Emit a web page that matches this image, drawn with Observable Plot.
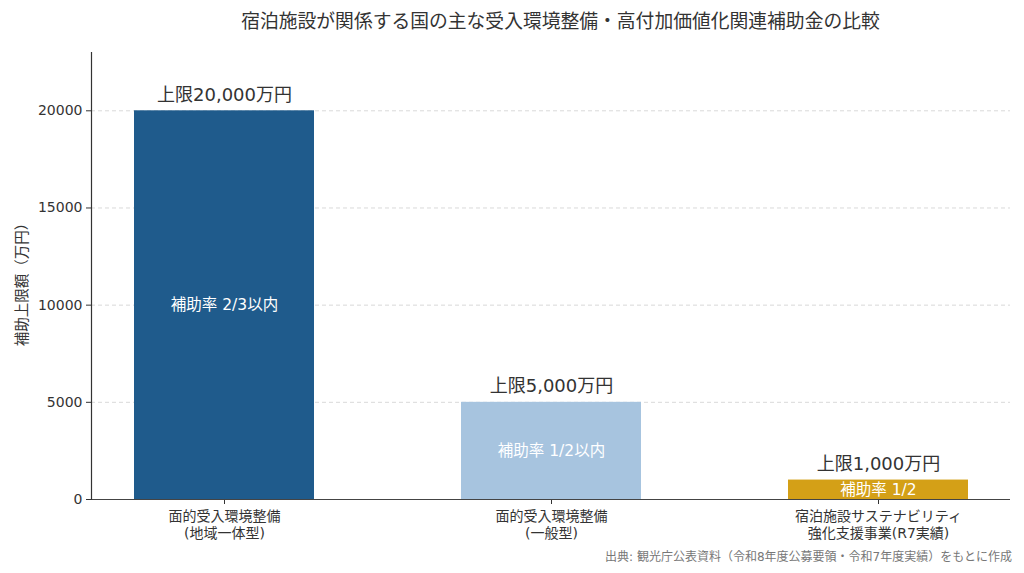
<!DOCTYPE html>
<html>
<head>
<meta charset="utf-8">
<script src="https://cdn.jsdelivr.net/npm/d3@7"></script>
<script src="https://cdn.jsdelivr.net/npm/@observablehq/plot@0.6"></script>
<style>
  body { margin: 0; background: #fff; font-family: "DejaVu Sans", "Noto Sans CJK JP", sans-serif; }
  #wrap { width: 1024px; height: 573px; position: relative; overflow: hidden; }
  #title { height: 44px; line-height: 44px; padding-left: 101px; padding-right: 4px; text-align: center; font-size: 18.8px; color: #333; white-space: nowrap; }
  #chart svg { display: block; }
  #caption { position: absolute; right: 12px; top: 548px; font-size: 12px; color: #777; line-height: 18px; white-space: nowrap; }
</style>
</head>
<body>
<div id="wrap">
  <div id="title">宿泊施設が関係する国の主な受入環境整備・高付加価値化関連補助金の比較</div>
  <div id="chart"></div>
  <div id="caption">出典: 観光庁公表資料（令和8年度公募要領・令和7年度実績）をもとに作成</div>
</div>
<script>
const categories = ["面的受入環境整備\n(地域一体型)", "面的受入環境整備\n(一般型)", "宿泊施設サステナビリティ\n強化支援事業(R7実績)"];
const limits = [20000, 5000, 1000];
const limitLabels = ["上限20,000万円", "上限5,000万円", "上限1,000万円"];
const rateLabels = ["補助率 2/3以内", "補助率 1/2以内", "補助率 1/2"];
const barColors = ["#1f5b8c", "#a7c4df", "#d4a017"];
const yTicks = [0, 5000, 10000, 15000, 20000];
const yLabel = "補助上限額（万円）";

const data = categories.map((c, i) => ({cat: c, value: limits[i], top: limitLabels[i], rate: rateLabels[i], color: barColors[i]}));

const chart = Plot.plot({
  width: 1024,
  height: 503,
  marginLeft: 91,
  marginRight: 14,
  marginTop: 8,
  marginBottom: 48,
  style: {fontFamily: '"DejaVu Sans", "Noto Sans CJK JP", sans-serif', color: "#333", background: "#fff"},
  x: {domain: categories, paddingInner: 0.45, paddingOuter: 0.128, label: null},
  y: {domain: [0, 23000], label: null},
  marks: [
    Plot.gridY(yTicks, {stroke: "#d9d9d9", strokeOpacity: 1, strokeDasharray: "4,3"}),
    Plot.barY(data, {x: "cat", y: "value", fill: "color"}),
    Plot.text(data, {x: "cat", y: "value", text: "top", lineAnchor: "bottom", dy: -10, fontSize: 18, fill: "#333"}),
    Plot.text(data, {x: "cat", y: d => d.value / 2, text: "rate", fill: "white", fontSize: 15.5}),
    Plot.axisY({ticks: yTicks, tickFormat: d3.format("d"), tickSize: 5, tickPadding: 4, fontSize: 14, stroke: "#333", label: null}),
    Plot.text([yLabel], {frameAnchor: "left", textAnchor: "middle", dx: -69, dy: 5, rotate: -90, fontSize: 14.5, fill: "#333", fontFamily: '"Noto Sans CJK JP", sans-serif'}),
    Plot.axisX({tickSize: 5, tickPadding: 5, fontSize: 14, lineHeight: 1.2, label: null, stroke: "#333"}),
    Plot.ruleY([0], {stroke: "#444", strokeWidth: 1.2}),
    Plot.frame({anchor: "left", stroke: "#333", strokeWidth: 1.2})
  ]
});
document.getElementById("chart").appendChild(chart);
</script>
</body>
</html>
